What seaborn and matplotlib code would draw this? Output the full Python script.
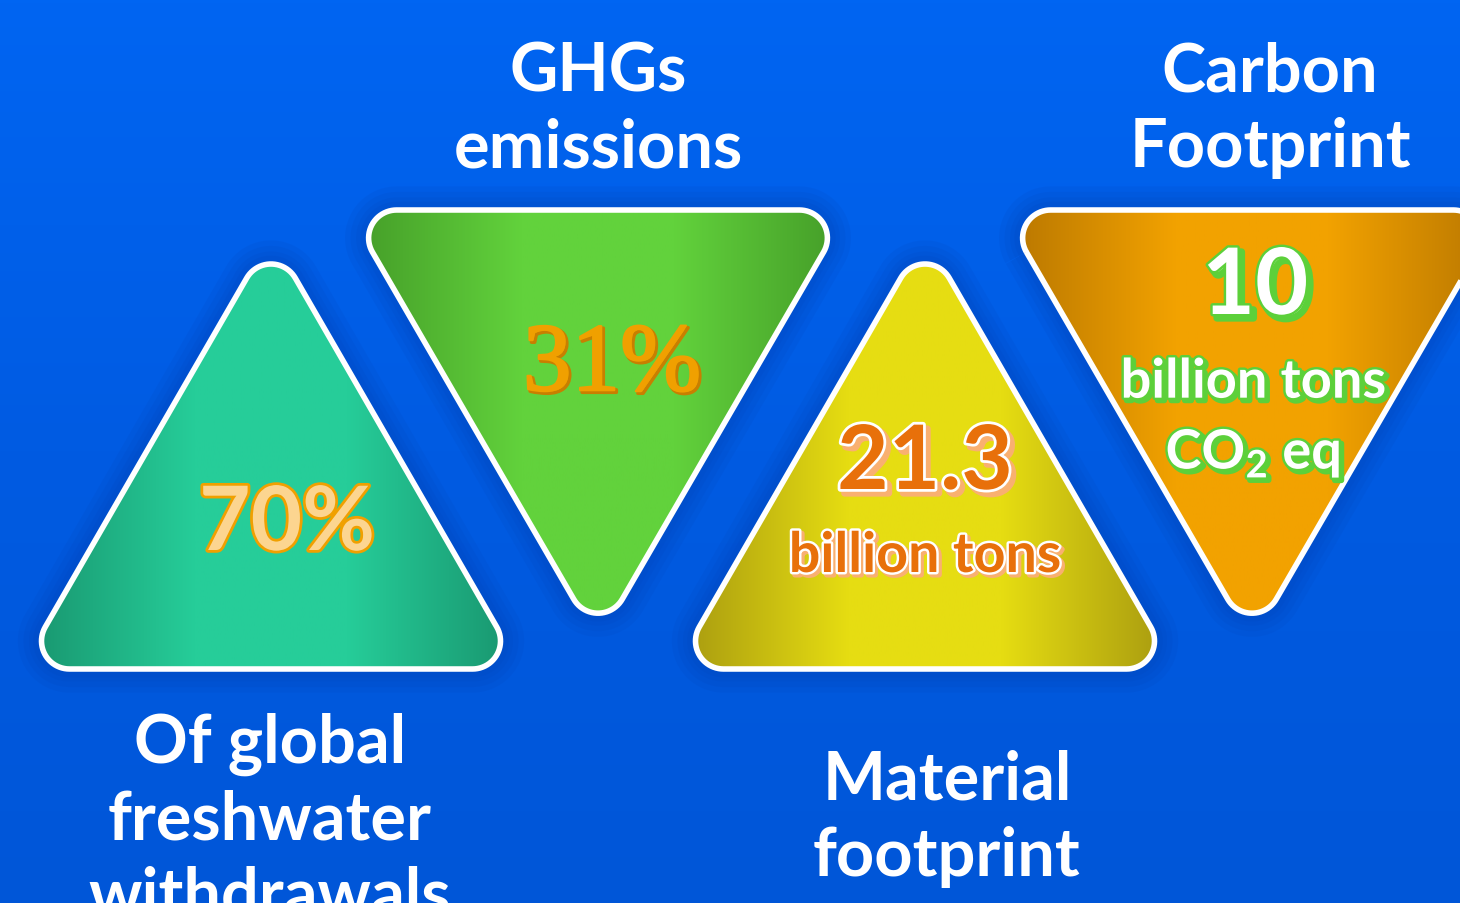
import numpy as np
import matplotlib
matplotlib.use("Agg")
import matplotlib.pyplot as plt
import matplotlib.patheffects as pe
from matplotlib.patches import Polygon
import seaborn as sns

# chart content
labels = ["Of global\nfreshwater\nwithdrawals", "GHGs\nemissions", "Material\nfootprint", "Carbon\nFootprint"]
values = ["70%", "31%", "21.3", "10"]
units = ["", "", "billion tons", "billion tons\nCO$_\\mathregular{2}$ eq"]
pointing = ["up", "down", "up", "down"]
edge_colors = ["#1A9A72", "#47A12A", "#ADA010", "#BD7A00"]
center_colors = ["#26CD99", "#62D23C", "#E6DD12", "#F2A200"]

sns.set_style("white")
plt.rcParams["font.family"] = ["Lato", "DejaVu Sans"]

fig = plt.figure(figsize=(14.6, 9.04), dpi=100)
ax = fig.add_axes([0, 0, 1, 1])
ax.set_xlim(0, 1460)
ax.set_ylim(904, 0)
ax.axis("off")

# background
bg = sns.blend_palette(["#0065F2", "#005BE2", "#0056D8"], n_colors=256, as_cmap=True)
ax.imshow(np.linspace(0, 1, 256).reshape(-1, 1), extent=[0, 1460, 904, 0],
          cmap=bg, aspect="auto", zorder=0)


def rounded_tri(verts, r=28, n=24):
    verts = np.asarray(verts, float)
    A, B, C = verts
    a = np.linalg.norm(B - C); b = np.linalg.norm(A - C); c = np.linalg.norm(A - B)
    inc = (a * A + b * B + c * C) / (a + b + c)
    area = abs(np.cross(B - A, C - A)) / 2
    rho = 2 * area / (a + b + c)
    inner = inc + (verts - inc) * (rho - r) / rho
    pts = []
    for i in range(3):
        p_prev, p, p_next = inner[i - 1], inner[i], inner[(i + 1) % 3]
        angs = []
        for q0, q1 in [(p_prev, p), (p, p_next)]:
            d = q1 - q0
            nrm = np.array([d[1], -d[0]]) / np.linalg.norm(d)
            if np.dot(nrm, (q0 + q1) / 2 - inc) < 0:
                nrm = -nrm
            angs.append(np.arctan2(nrm[1], nrm[0]))
        d = (angs[1] - angs[0] + np.pi) % (2 * np.pi) - np.pi
        t = np.linspace(angs[0], angs[0] + d, n)
        pts.append(np.column_stack([p[0] + r * np.cos(t), p[1] + r * np.sin(t)]))
    return np.vstack(pts)


centers_x = [271, 598, 925, 1252]
tri_w = 500
for i, cx in enumerate(centers_x):
    if pointing[i] == "up":
        verts = [(cx, 237), (cx - tri_w / 2, 670), (cx + tri_w / 2, 670)]
    else:
        verts = [(cx - tri_w / 2, 211), (cx + tri_w / 2, 211), (cx, 642)]
    path = rounded_tri(verts)
    # soft shadow
    for lw in [34, 26, 18, 12]:
        ax.add_patch(Polygon(path, closed=True, fill=False, edgecolor="#003FAE",
                             linewidth=lw, alpha=0.10, joinstyle="round", zorder=1))
    clip = Polygon(path, closed=True, facecolor="none", edgecolor="none", zorder=2)
    ax.add_patch(clip)
    cmap = sns.blend_palette([edge_colors[i], center_colors[i], center_colors[i], edge_colors[i]],
                             n_colors=256, as_cmap=True)
    x0, x1 = cx - tri_w / 2 + 20, cx + tri_w / 2 - 20
    img = ax.imshow(np.linspace(0, 1, 256).reshape(1, -1), extent=[x0, x1, 680, 200],
                    cmap=cmap, aspect="auto", zorder=2)
    img.set_clip_path(clip)
    ax.add_patch(Polygon(path, closed=True, facecolor="none", edgecolor="white",
                         linewidth=4, joinstyle="round", zorder=3))

# category titles (position = last line baseline)
title_pos = [(270, 916), (598, 167), (947, 876), (1270, 167)]
for (x, y), lab in zip(title_pos, labels):
    ax.text(x, y, lab, color="white", fontsize=48, fontweight="bold",
            ha="center", va="baseline", linespacing=1.28, zorder=5)

# values
ax.text(287, 525, values[0], fontsize=64, fontweight="bold", color="#FCD590",
        ha="center", va="center", zorder=5,
        path_effects=[pe.withStroke(linewidth=4, foreground="#F0A000")])
ax.text(612, 368, values[1], fontsize=70, family="Liberation Serif", color="#F0A000",
        ha="center", va="center", zorder=5,
        path_effects=[pe.Stroke(linewidth=2.5, foreground="#C87F00", offset=(1.5, -1.5)),
                      pe.withStroke(linewidth=1.5, foreground="#F0A000")])
ax.text(925, 464, values[2], fontsize=64, fontweight="bold", color="#E8700A",
        ha="center", va="center", zorder=5,
        path_effects=[pe.Stroke(linewidth=5, foreground="#F9B070", offset=(3, -3)),
                      pe.withStroke(linewidth=4, foreground="white")])
ax.text(925, 557, units[2], fontsize=40, fontweight="bold", color="#E8700A",
        ha="center", va="center", zorder=5,
        path_effects=[pe.Stroke(linewidth=4, foreground="#F9B070", offset=(2, -2)),
                      pe.withStroke(linewidth=3.5, foreground="white")])
ax.text(1255, 289, values[3], fontsize=66, fontweight="bold", color="white",
        ha="center", va="center", zorder=5,
        path_effects=[pe.Stroke(linewidth=5, foreground="#5CD03A", offset=(3, -3)),
                      pe.withStroke(linewidth=3.5, foreground="#5CD03A")])
ax.text(1253, 470, units[3], fontsize=39, fontweight="bold", color="white",
        ha="center", va="baseline", linespacing=1.52, zorder=5,
        path_effects=[pe.Stroke(linewidth=4, foreground="#5CD03A", offset=(2, -2)),
                      pe.withStroke(linewidth=3.5, foreground="#5CD03A")])

fig.savefig("out.png", dpi=100, facecolor="#0060EA")
